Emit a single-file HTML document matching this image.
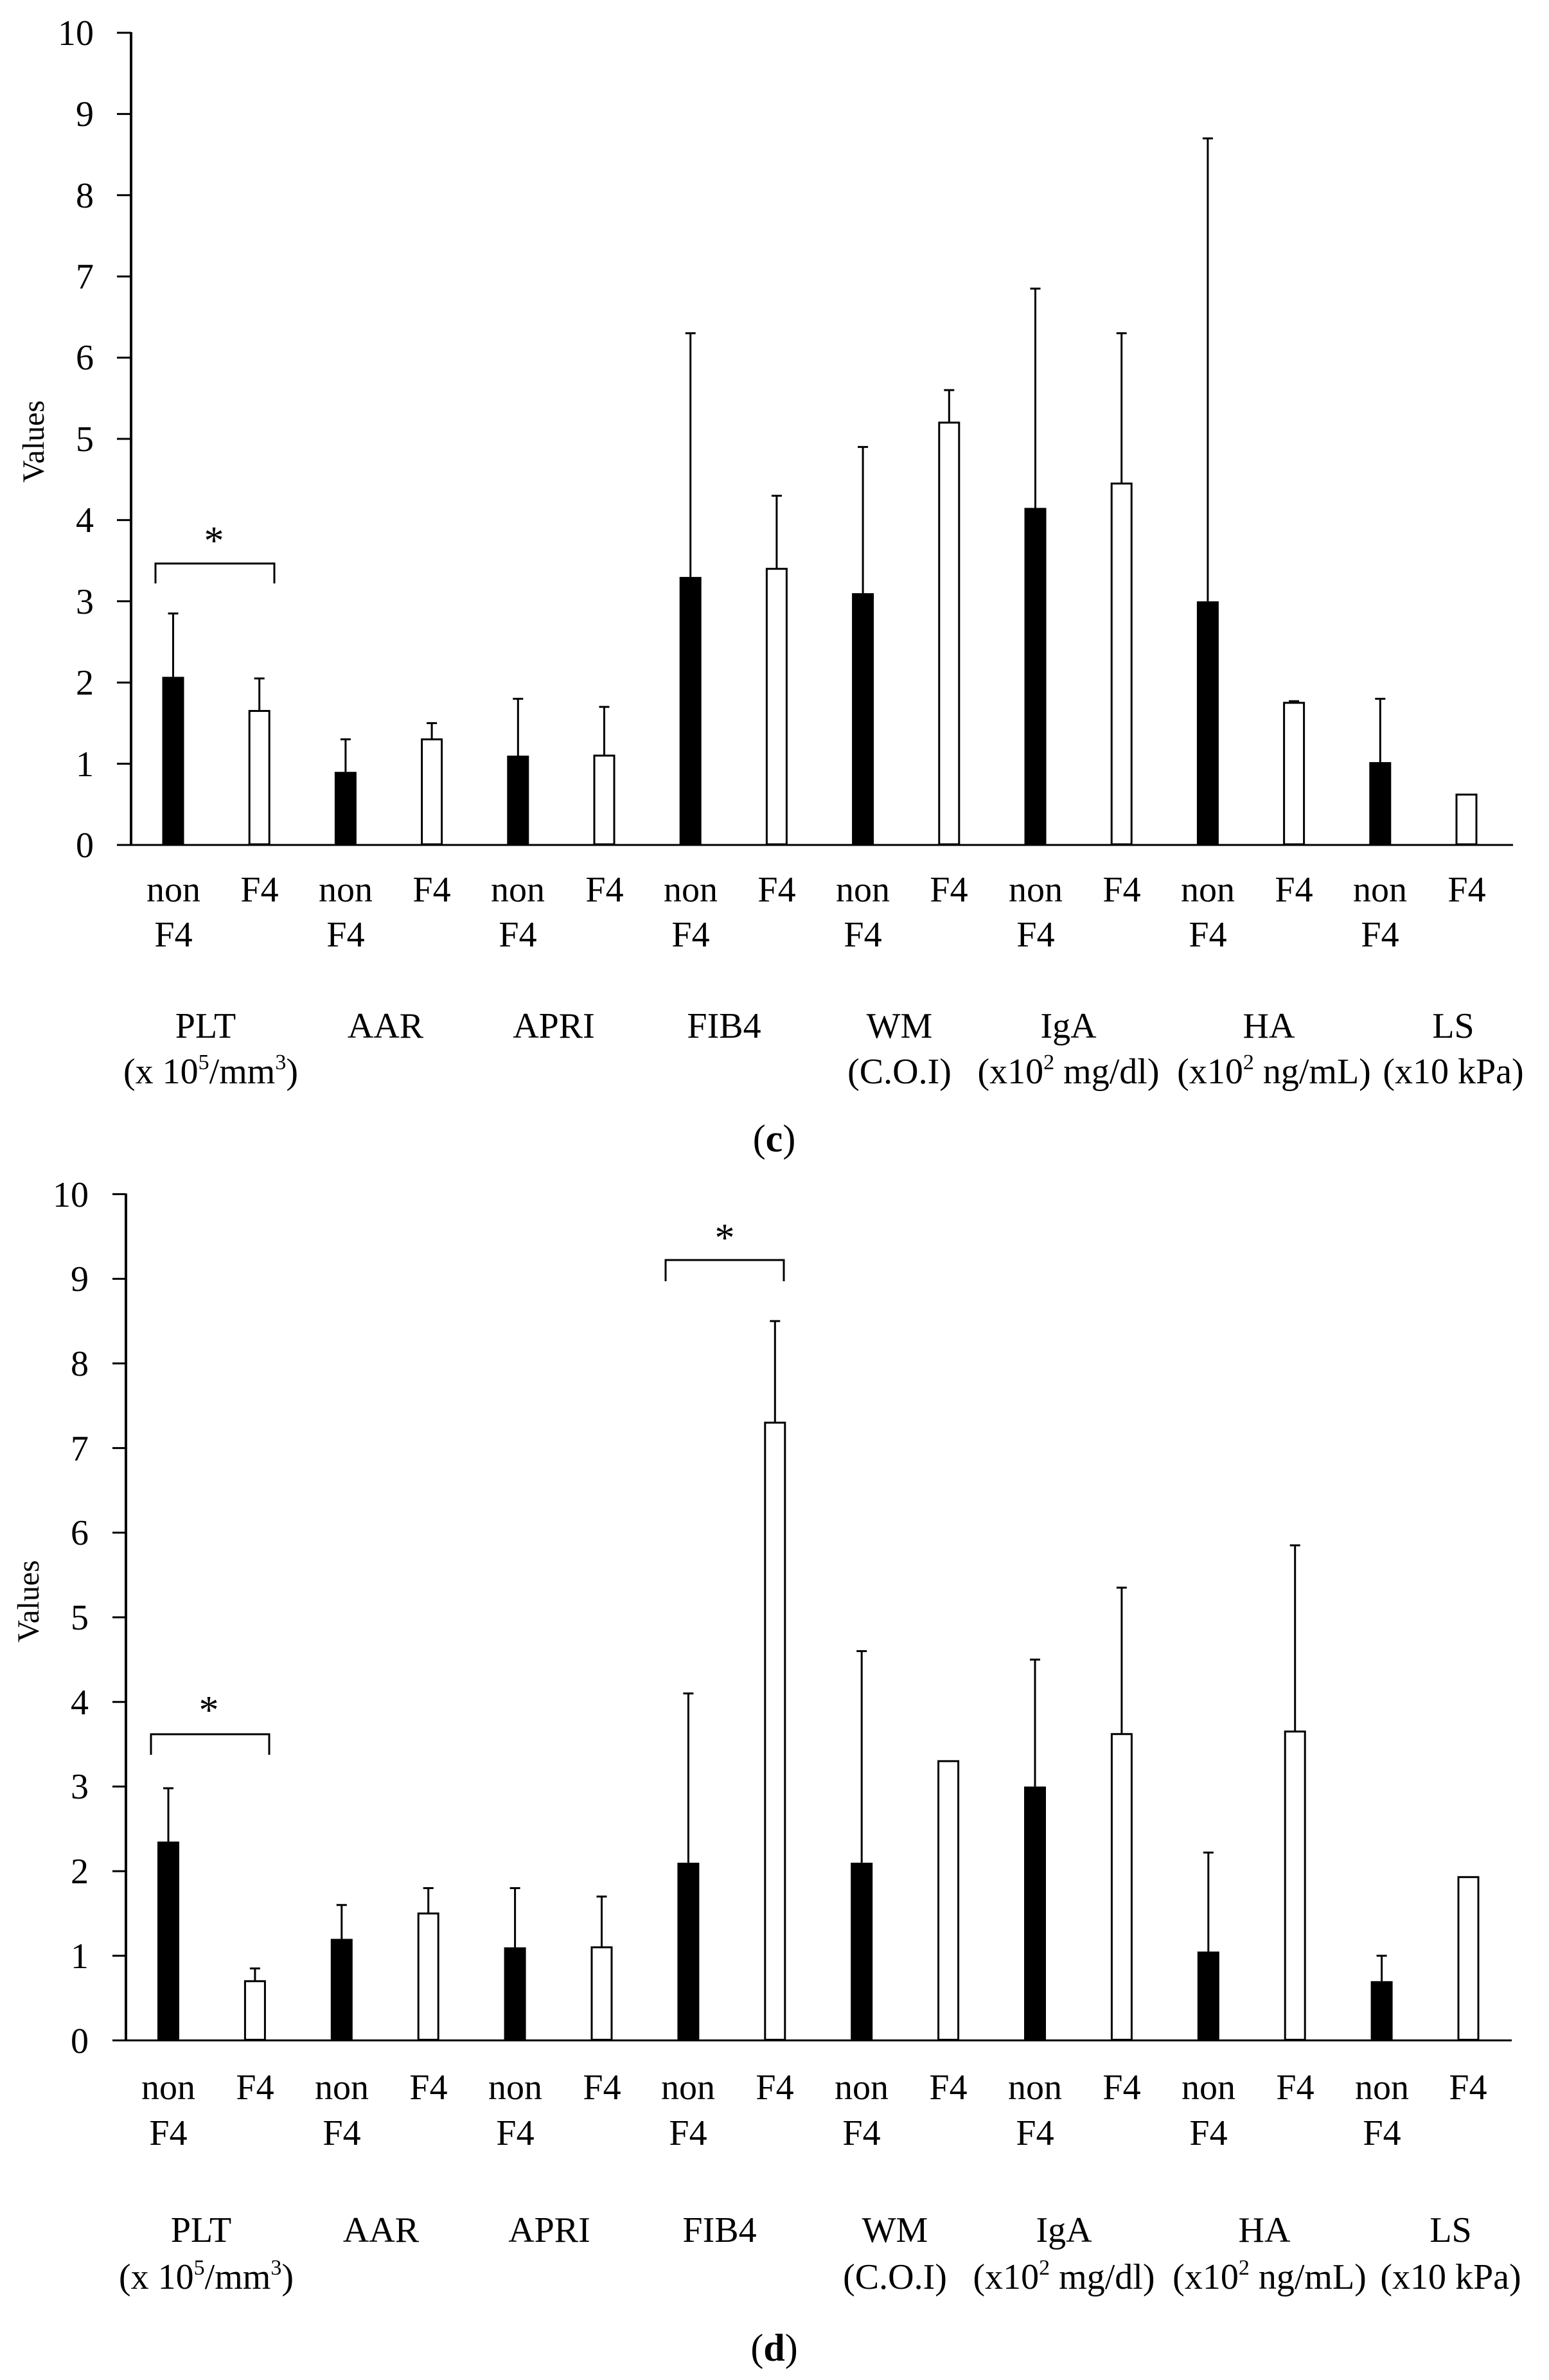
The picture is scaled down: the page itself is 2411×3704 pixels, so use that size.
<!DOCTYPE html>
<html><head><meta charset="utf-8"><style>
html,body{margin:0;padding:0;background:#fff;}
svg{display:block;font-family:"Liberation Serif",serif;}
</style></head><body>
<svg id="s" width="2411" height="3704" viewBox="0 0 2411 3704" xmlns="http://www.w3.org/2000/svg">
<g id="plots"></g>
<g font-size="56" text-anchor="end">
<text x="146" y="1334">0</text><text x="146" y="1208">1</text><text x="146" y="1081">2</text><text x="146" y="955">3</text><text x="146" y="828">4</text><text x="146" y="702">5</text><text x="146" y="575">6</text><text x="146" y="449">7</text><text x="146" y="323">8</text><text x="146" y="196">9</text><text x="146" y="70">10</text>
<text x="138" y="3195">0</text><text x="138" y="3063">1</text><text x="138" y="2931">2</text><text x="138" y="2799">3</text><text x="138" y="2668">4</text><text x="138" y="2536">5</text><text x="138" y="2404">6</text><text x="138" y="2273">7</text><text x="138" y="2141">8</text><text x="138" y="2009">9</text><text x="138" y="1878">10</text>
</g>
<text font-size="48" text-anchor="middle" transform="translate(68,687) rotate(-90)">Values</text>
<text font-size="48" text-anchor="middle" transform="translate(60,2492) rotate(-90)">Values</text>
<g font-size="62" text-anchor="middle">
<text x="333" y="862">*</text>
<text x="325" y="2682">*</text>
<text x="1128" y="1947">*</text>
</g>
<g font-size="56" text-anchor="middle">
<text x="320" y="1615">PLT</text><text x="328" y="1686">(x 10<tspan font-size="34" dy="-22">5</tspan><tspan dy="22">/mm</tspan><tspan font-size="34" dy="-22">3</tspan><tspan dy="22">)</tspan></text>
<text x="600" y="1615">AAR</text>
<text x="862" y="1615">APRI</text>
<text x="1127" y="1615">FIB4</text>
<text x="1400" y="1615">WM</text><text x="1400" y="1686">(C.O.I)</text>
<text x="1663" y="1615">IgA</text><text x="1663" y="1686">(x10<tspan font-size="34" dy="-22">2</tspan><tspan dy="22"> mg/dl)</tspan></text>
<text x="1975" y="1615">HA</text><text x="1983" y="1686">(x10<tspan font-size="34" dy="-22">2</tspan><tspan dy="22"> ng/mL)</tspan></text>
<text x="2262" y="1615">LS</text><text x="2262" y="1686">(x10 kPa)</text>

<text x="313" y="3489">PLT</text><text x="321" y="3562">(x 10<tspan font-size="34" dy="-22">5</tspan><tspan dy="22">/mm</tspan><tspan font-size="34" dy="-22">3</tspan><tspan dy="22">)</tspan></text>
<text x="593" y="3489">AAR</text>
<text x="855" y="3489">APRI</text>
<text x="1120" y="3489">FIB4</text>
<text x="1393" y="3489">WM</text><text x="1393" y="3562">(C.O.I)</text>
<text x="1656" y="3489">IgA</text><text x="1656" y="3562">(x10<tspan font-size="34" dy="-22">2</tspan><tspan dy="22"> mg/dl)</tspan></text>
<text x="1968" y="3489">HA</text><text x="1976" y="3562">(x10<tspan font-size="34" dy="-22">2</tspan><tspan dy="22"> ng/mL)</tspan></text>
<text x="2258" y="3489">LS</text><text x="2258" y="3562">(x10 kPa)</text>
</g>
<text x="1205" y="1792" font-size="60" text-anchor="middle">(<tspan font-weight="bold">c</tspan>)</text>
<text x="1205" y="3674" font-size="60" text-anchor="middle">(<tspan font-weight="bold">d</tspan>)</text>
<g font-size="56" text-anchor="middle">
<text x="270" y="1403">non</text><text x="270" y="1473">F4</text><text x="404" y="1403">F4</text>
<text x="538" y="1403">non</text><text x="538" y="1473">F4</text><text x="672" y="1403">F4</text>
<text x="806" y="1403">non</text><text x="806" y="1473">F4</text><text x="941" y="1403">F4</text>
<text x="1075" y="1403">non</text><text x="1075" y="1473">F4</text><text x="1209" y="1403">F4</text>
<text x="1343" y="1403">non</text><text x="1343" y="1473">F4</text><text x="1477" y="1403">F4</text>
<text x="1612" y="1403">non</text><text x="1612" y="1473">F4</text><text x="1746" y="1403">F4</text>
<text x="1880" y="1403">non</text><text x="1880" y="1473">F4</text><text x="2014" y="1403">F4</text>
<text x="2148" y="1403">non</text><text x="2148" y="1473">F4</text><text x="2283" y="1403">F4</text>

<text x="262" y="3267">non</text><text x="262" y="3338">F4</text><text x="397" y="3267">F4</text>
<text x="532" y="3267">non</text><text x="532" y="3338">F4</text><text x="667" y="3267">F4</text>
<text x="802" y="3267">non</text><text x="802" y="3338">F4</text><text x="937" y="3267">F4</text>
<text x="1071" y="3267">non</text><text x="1071" y="3338">F4</text><text x="1206" y="3267">F4</text>
<text x="1341" y="3267">non</text><text x="1341" y="3338">F4</text><text x="1476" y="3267">F4</text>
<text x="1611" y="3267">non</text><text x="1611" y="3338">F4</text><text x="1746" y="3267">F4</text>
<text x="1881" y="3267">non</text><text x="1881" y="3338">F4</text><text x="2016" y="3267">F4</text>
<text x="2151" y="3267">non</text><text x="2151" y="3338">F4</text><text x="2285" y="3267">F4</text>
</g>
</svg>
<script>
(function(){
var NS="http://www.w3.org/2000/svg",g=document.getElementById("plots");
function el(t,a){var e=document.createElementNS(NS,t);for(var k in a)e.setAttribute(k,a[k]);g.appendChild(e);return e;}
function line(x1,y1,x2,y2,w){el("line",{x1:x1,y1:y1,x2:x2,y2:y2,stroke:"#000","stroke-width":w||3});}
function chart(c){
 var Y=function(v){return c.y0-c.u*v;};
 line(c.ax,Y(10)-1,c.ax,c.y0+1,4);
 line(c.tl,c.y0,c.xr,c.y0,3);
 for(var i=0;i<=10;i++)line(c.tl,Y(i),c.ax,Y(i),3);
 for(var i=0;i<16;i++){
  var x=c.x0+c.p*i,v=c.d[i][0],e=c.d[i][1],bw=34;
  if(e){line(x,Y(v),x,Y(e),3);line(x-8,Y(e),x+8,Y(e),3);}
  if(i%2==0)el("rect",{x:x-bw/2,y:Y(v),width:bw,height:c.y0-Y(v),fill:"#000"});
  else el("rect",{x:x-bw/2+1.5,y:Y(v),width:bw-3,height:c.y0-Y(v)-1,fill:"#fff",stroke:"#000","stroke-width":3});
 }
 c.br.forEach(function(b){
  el("polyline",{points:b[0]+","+b[3]+" "+b[0]+","+b[2]+" "+b[1]+","+b[2]+" "+b[1]+","+b[3],fill:"none",stroke:"#000","stroke-width":3});
 });
}
chart({ax:204,tl:182,xr:2355,y0:1315,u:126.4,x0:269.5,p:134.2,
 d:[[2.07,2.85],[1.65,2.05],[0.9,1.3],[1.3,1.5],[1.1,1.8],[1.1,1.7],[3.3,6.3],[3.4,4.3],[3.1,4.9],[5.2,5.6],[4.15,6.85],[4.45,6.3],[3.0,8.7],[1.75,1.77],[1.02,1.8],[0.62,0]],
 br:[[242,427,877,908]]});
chart({ax:196,tl:175,xr:2353,y0:3175.5,u:131.7,x0:262,p:134.9,
 d:[[2.35,2.98],[0.7,0.85],[1.2,1.6],[1.5,1.8],[1.1,1.8],[1.1,1.7],[2.1,4.1],[7.3,8.5],[2.1,4.6],[3.3,0],[3.0,4.5],[3.62,5.35],[1.05,2.22],[3.65,5.85],[0.7,1.0],[1.93,0]],
 br:[[235,419,2699,2731],[1036,1220,1961,1994]]});
})();
</script>
</body></html>
